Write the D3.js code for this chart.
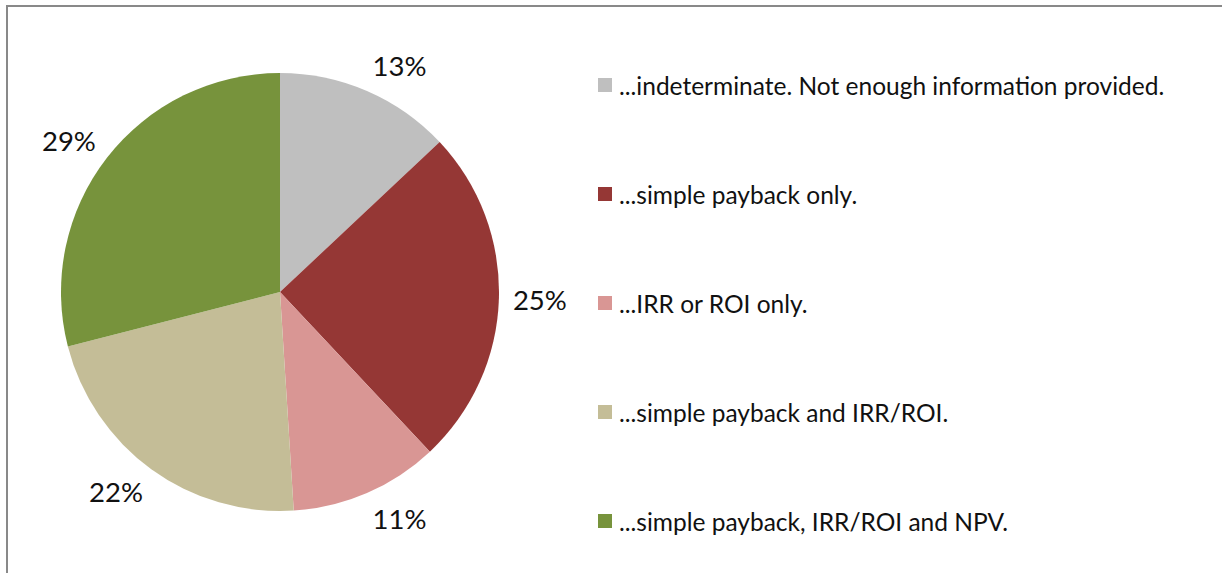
<!DOCTYPE html>
<html><head><meta charset="utf-8">
<script src="https://cdn.jsdelivr.net/npm/d3@7"></script>
<style>html,body{margin:0;padding:0;background:#fff;overflow:hidden}</style>
</head><body>
<svg id="chart" width="1222" height="573"></svg>
<script>
const categories = [
  "...indeterminate. Not enough information provided.",
  "...simple payback only.",
  "...IRR or ROI only.",
  "...simple payback and IRR/ROI.",
  "...simple payback, IRR/ROI and NPV."
];
const values = [13, 25, 11, 22, 29];
const colors = ["#BFBFBF", "#953735", "#D99694", "#C4BD97", "#77933C"];

const svg = d3.select("#chart");
const font = "Lato, 'Open Sans', sans-serif";

// outer border
svg.append("rect").attr("x", 7).attr("y", 6).attr("width", 1230).attr("height", 600)
  .attr("fill", "#fff").attr("stroke", "#898989").attr("stroke-width", 2);

const cx = 280, cy = 292, r = 219;
const pie = d3.pie().sort(null).value(d => d)(values);
const arc = d3.arc().innerRadius(0).outerRadius(r);
const g = svg.append("g").attr("transform", `translate(${cx},${cy})`);
g.selectAll("path").data(pie).join("path")
  .attr("d", arc).attr("fill", (d, i) => colors[i]);

const total = d3.sum(values);
const labelSize = 27.5;
g.selectAll("text.lab").data(pie).join("text").attr("class", "lab")
  .attr("font-family", font).attr("font-size", labelSize).attr("fill", "#111")
  .attr("text-anchor", "middle").attr("dominant-baseline", "central")
  .text(d => Math.round(d.data / total * 100) + "%")
  .each(function (d) {
    const a = (d.startAngle + d.endAngle) / 2;
    const ar = r + 14;
    const ax = Math.sin(a) * ar, ay = -Math.cos(a) * ar;
    const w = this.getComputedTextLength(), h = labelSize;
    const x = ax + Math.sign(Math.sin(a)) * w / 2;
    const y = ay - Math.cos(a) * h / 2;
    d3.select(this).attr("x", x).attr("y", y);
  });

// legend
const ly = d3.scalePoint().domain(categories).range([85, 521]);
const lg = svg.append("g");
const items = lg.selectAll("g").data(categories).join("g")
  .attr("transform", d => `translate(598,${ly(d)})`);
items.append("rect").attr("x", 0).attr("y", -7).attr("width", 14).attr("height", 14)
  .attr("fill", (d, i) => colors[i]);
items.append("text").attr("x", 21).attr("y", 0).attr("dominant-baseline", "central")
  .attr("font-family", font).attr("font-size", 24.5).attr("fill", "#111")
  .text(d => d);
</script>
</body></html>
